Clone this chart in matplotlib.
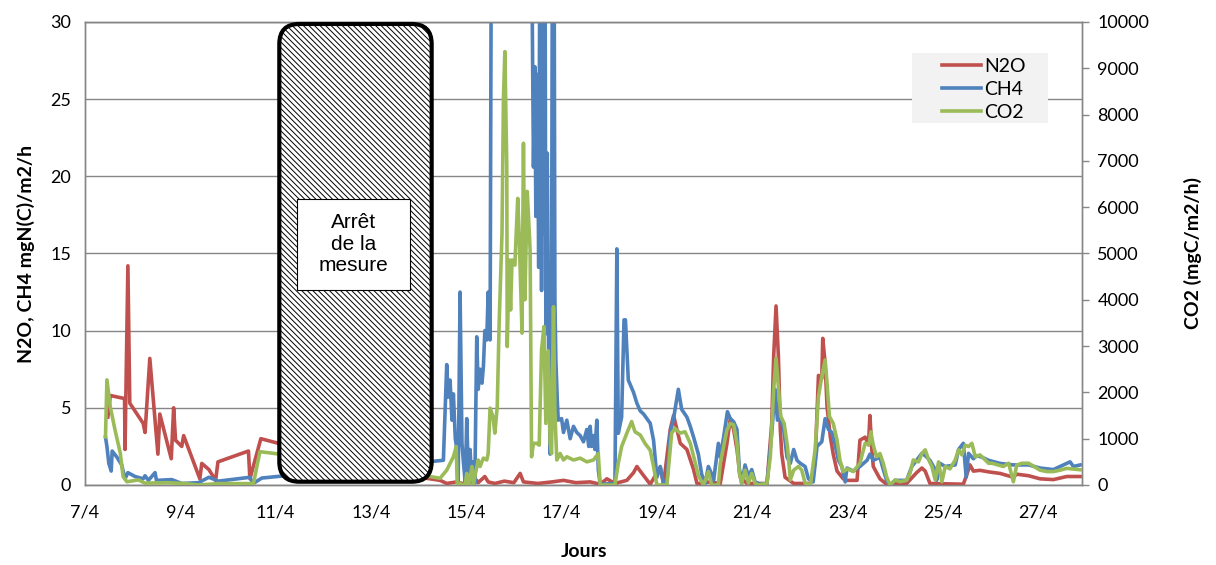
import matplotlib
matplotlib.use("Agg")
import matplotlib.pyplot as plt
from matplotlib.patches import FancyBboxPatch, Rectangle
from matplotlib.lines import Line2D

plt.rcParams['font.family'] = ['Lato', 'DejaVu Sans']
plt.rcParams['hatch.linewidth'] = 0.7

# jour d'avril (decimal) / valeur
n2o_t = [7.48, 7.53, 7.83, 7.84, 7.90, 7.94, 8.22, 8.26, 8.36, 8.53, 8.57, 8.81, 8.86, 8.90,
         9.03, 9.07, 9.41, 9.45, 9.60, 9.74, 9.79, 10.43, 10.46, 10.69, 11.06,
         14.03, 14.45, 14.59, 14.80, 14.97, 15.22, 15.25, 15.39, 15.46, 15.60, 15.80, 16.00,
         16.13, 16.20, 16.50, 16.80, 17.04, 17.30, 17.60, 17.81, 17.95, 18.12, 18.37, 18.51,
         18.58, 18.65, 18.86, 19.07, 19.14, 19.28, 19.35, 19.49, 19.63, 19.77, 19.84, 19.91,
         20.12, 20.33, 20.40, 20.47, 20.54, 20.61, 20.68, 20.75, 20.89, 21.31, 21.41, 21.45,
         21.50, 21.55, 21.59, 21.62, 21.69, 21.87, 22.22, 22.32, 22.39, 22.46, 22.48, 22.53,
         22.57, 22.64, 22.70, 22.78, 22.91, 22.98, 23.20, 23.26, 23.37, 23.44, 23.47, 23.51,
         23.54, 23.68, 23.82, 24.24, 24.45, 24.56, 24.63, 24.73, 25.43, 25.50, 25.57, 25.64,
         25.78, 25.96, 26.20, 26.48, 26.55, 26.80, 27.04, 27.32, 27.60, 27.88]
n2o_v = [4.4, 5.8, 5.6, 2.3, 14.2, 5.3, 4.0, 3.4, 8.2, 2.0, 4.6, 1.7, 5.0, 2.9,
         2.5, 3.2, 0.4, 1.4, 1.0, 0.3, 1.5, 2.2, 0.4, 3.0, 2.7,
         0.5, 0.3, 0.1, 0.2, 0.05, 0.3, 0.15, 0.55, 0.2, 0.1, 0.25, 0.15,
         0.75, 0.2, 0.1, 0.2, 0.3, 0.15, 0.2, 0.05, 0.4, 0.1, 0.3, 0.8,
         1.2, 0.9, 0.05, 1.15, 0.05, 3.6, 4.5, 2.7, 2.3, 1.0, 0.1, 0.1,
         0.2, 0.1, 1.4, 2.7, 4.3, 3.6, 2.3, 0.5, 0.1, 0.1, 4.0, 8.3,
         11.6, 8.3, 3.6, 2.0, 0.5, 0.1, 0.1, 1.4, 7.1, 6.9, 9.5, 7.9,
         5.1, 3.1, 2.0, 0.9, 0.4, 0.3, 0.3, 2.9, 3.1, 2.6, 4.5, 2.3,
         1.2, 0.4, 0.05, 0.1, 0.8, 1.1, 0.9, 0.1, 0.05, 0.65, 1.3, 0.9,
         0.95, 0.85, 0.75, 0.5, 0.7, 0.6, 0.4, 0.35, 0.55, 0.55]

ch4_t = [7.43, 7.46, 7.50, 7.55, 7.57, 7.67, 7.77, 7.84, 7.90, 8.05, 8.22, 8.26, 8.33, 8.47,
         8.50, 8.82, 9.03, 9.38, 9.60, 9.80, 10.46, 10.53, 10.71, 11.20,
         14.17, 14.52, 14.59, 14.62, 14.66, 14.70, 14.73, 14.77, 14.79, 14.83, 14.87, 14.91,
         14.94, 14.98, 15.01, 15.05, 15.08, 15.11, 15.15, 15.18, 15.22, 15.25, 15.29, 15.33,
         15.36, 15.39, 15.43, 15.46, 15.50, 15.53, 16.36,
         16.41, 16.44, 16.46, 16.49, 16.52, 16.55, 16.58, 16.61, 16.63, 16.65, 16.67,
         16.70, 16.73, 16.76, 16.79, 16.81, 16.84, 16.86, 16.88, 16.91, 16.93, 17.00, 17.04,
         17.11, 17.18, 17.25, 17.32, 17.39, 17.46, 17.53, 17.57, 17.60, 17.63, 17.67, 17.70,
         17.74, 17.77, 17.81, 18.12, 18.16, 18.19, 18.26, 18.31, 18.34, 18.40, 18.51, 18.58,
         18.65, 18.72, 18.86, 18.93, 19.00, 19.07, 19.14, 19.21, 19.28, 19.35, 19.45, 19.52,
         19.63, 19.70, 19.77, 19.87, 19.94, 20.01, 20.08, 20.15, 20.19, 20.29, 20.33, 20.40,
         20.48, 20.54, 20.61, 20.68, 20.73, 20.78, 20.85, 20.92, 20.99, 21.06, 21.17, 21.31,
         21.41, 21.48, 21.53, 21.59, 21.66, 21.73, 21.80, 21.87, 21.94, 22.01, 22.11, 22.18,
         22.28, 22.36, 22.46, 22.53, 22.60, 22.67, 22.74, 22.81, 22.88, 22.95, 22.99, 23.12,
         23.26, 23.41, 23.47, 23.54, 23.68, 23.75, 23.82, 23.89, 24.00, 24.10, 24.24, 24.35,
         24.45, 24.56, 24.63, 24.73, 24.84, 24.87, 24.94, 25.05, 25.26, 25.33, 25.43, 25.49,
         25.54, 25.64, 25.71, 25.82, 25.96, 26.20, 26.48, 26.80, 27.04, 27.32, 27.67, 27.74,
         27.88]
ch4_v = [3.1, 2.5, 1.4, 0.9, 2.2, 1.8, 1.3, 0.4, 0.8, 0.55, 0.4, 0.6, 0.3, 0.8,
         0.3, 0.35, 0.1, 0.15, 0.5, 0.25, 0.5, 0.1, 0.45, 0.6,
         1.5, 1.6, 7.8, 5.7, 6.8, 4.2, 5.9, 3.0, 2.6, 0.1, 12.5, 2.7,
         1.5, 0.1, 4.3, 0.1, 2.3, 0.5, 1.5, 0.1, 9.6, 6.2, 7.5, 6.6,
         7.7, 10.0, 9.4, 12.5, 9.4, 40, 40,
         20.6, 27.1, 17.4, 26.6, 14.1, 40, 12.6, 40, 16.3, 40, 9.8,
         21.5, 7.7, 2.0, 12.0, 40, 40, 12.0, 8.1, 5.5, 4.2, 4.3, 3.4,
         4.2, 3.0, 3.8, 3.4, 3.2, 2.8, 3.6, 2.5, 3.8, 2.5, 3.2, 2.3,
         4.2, 1.0, 0.05, 0.1, 15.3, 3.35, 4.4, 10.7, 10.7, 6.8, 6.0, 5.3,
         4.8, 4.6, 4.0, 2.9, 0.5, 1.2, 0.1, 0.1, 3.35, 4.3, 6.2, 4.9,
         4.4, 3.8, 3.1, 2.0, 0.7, 0.05, 1.2, 0.7, 0.3, 2.7, 1.8, 3.1,
         4.75, 4.3, 4.1, 3.6, 1.0, 0.1, 1.3, 0.55, 1.0, 0.2, 0.05, 0.1,
         3.35, 6.2, 4.2, 4.3, 3.6, 1.8, 1.4, 2.3, 1.6, 1.4, 1.2, 0.4,
         0.2, 2.5, 2.8, 4.3, 3.6, 3.4, 2.6, 1.6, 1.2, 0.2, 1.1, 0.9,
         1.2, 1.6, 2.0, 1.6, 1.8, 1.0, 0.3, 0.0, 0.3, 0.3, 0.3, 1.2,
         1.6, 2.05, 1.9, 1.6, 1.0, 0.3, 1.4, 1.2, 1.3, 2.3, 2.7, 0.5,
         2.05, 1.7, 1.9, 1.8, 1.6, 1.4, 1.3, 1.3, 1.1, 1.0, 1.5, 1.2,
         1.3]

co2_t = [7.43, 7.46, 7.53, 7.63, 7.74, 7.80, 7.88, 8.12, 8.26, 8.75, 9.10, 9.38, 9.80, 10.50,
         10.53, 10.67, 11.06, 14.03, 14.45, 14.59, 14.73, 14.79, 14.81, 14.87, 14.91, 14.98,
         15.01, 15.05, 15.12, 15.15, 15.18, 15.25, 15.29, 15.36, 15.43, 15.46, 15.50, 15.56,
         15.60, 15.65, 15.69, 15.75, 15.78, 15.81, 15.85, 15.86, 15.90, 15.93, 15.96, 16.02,
         16.08, 16.11, 16.17, 16.20, 16.23, 16.28, 16.34, 16.37, 16.41, 16.48, 16.53, 16.58,
         16.63, 16.67, 16.72, 16.76, 16.79, 16.83, 16.86, 16.90, 16.97, 17.04, 17.11, 17.25,
         17.39, 17.53, 17.67, 17.77, 17.81, 18.12, 18.19, 18.26, 18.37, 18.47, 18.54, 18.65,
         18.75, 18.86, 18.93, 19.00, 19.21, 19.31, 19.38, 19.49, 19.59, 19.70, 19.80, 19.87,
         19.98, 20.08, 20.15, 20.29, 20.33, 20.40, 20.47, 20.54, 20.61, 20.68, 20.73, 20.78,
         20.85, 20.92, 20.99, 21.06, 21.13, 21.31, 21.38, 21.45, 21.50, 21.55, 21.60, 21.67,
         21.74, 21.80, 21.87, 21.97, 22.04, 22.11, 22.22, 22.32, 22.39, 22.46, 22.53, 22.57,
         22.62, 22.70, 22.78, 22.84, 22.91, 23.00, 23.12, 23.26, 23.37, 23.45, 23.49, 23.54,
         23.61, 23.68, 23.75, 23.82, 23.89, 24.00, 24.10, 24.24, 24.31, 24.38, 24.49, 24.56,
         24.63, 24.70, 24.77, 24.84, 24.91, 24.98, 25.05, 25.15, 25.26, 25.33, 25.40, 25.47,
         25.54, 25.61, 25.68, 25.78, 25.85, 25.96, 26.03, 26.17, 26.27, 26.38, 26.48, 26.55,
         26.66, 26.80, 27.04, 27.18, 27.32, 27.46, 27.60, 27.88]
co2_v = [1040, 2270, 1690, 1190, 690, 180, 70, 110, 40, 50, 30, 0, 30, 30,
         10, 720, 670, 220, 145, 320, 610, 830, 0, 40, 0, 20,
         250, 0, 400, 0, 180, 540, 400, 580, 540, 680, 1660, 1480,
         1120, 1690, 3490, 5440, 8320, 9360, 6880, 2990, 4860, 3780, 4860, 4750,
         6190, 5420, 3280, 7380, 4000, 6340, 5080, 610, 900, 900, 860, 2920,
         3420, 1330, 2900, 900, 680, 3850, 1550, 540, 680, 540, 610, 540,
         580, 500, 540, 680, 0, 0, 470, 830, 1120, 1370, 1150, 1080,
         900, 750, 400, 0, 0, 1120, 1220, 1120, 1150, 900, 500, 200,
         0, 290, 0, 0, 470, 830, 1190, 1330, 1300, 900, 250, 40,
         320, 40, 250, 40, 0, 40, 610, 2050, 2740, 2120, 1480, 1330,
         830, 110, 320, 400, 320, 40, 0, 760, 1910, 2340, 2700, 2200,
         1480, 1330, 970, 540, 290, 350, 290, 470, 900, 870, 1150, 860,
         610, 680, 470, 180, 0, 110, 70, 100, 250, 540, 500, 680,
         760, 550, 400, 110, 500, 70, 400, 350, 540, 760, 650, 860,
         830, 900, 610, 650, 580, 470, 470, 430, 400, 470, 70, 430,
         470, 470, 320, 290, 290, 320, 360, 330]

day_ticks = [7, 9, 11, 13, 15, 17, 19, 21, 23, 25, 27]
day_labels = [f"{d}/4" for d in day_ticks]

RED, BLUE, GREEN = '#C0504D', '#4F81BD', '#9BBB59'
GRID = '#868686'
LW = 2.6

fig = plt.figure(figsize=(12.16, 5.65), dpi=100)
ax = fig.add_axes([0.0699, 0.1416, 0.8199, 0.8195])
ax2 = ax.twinx()

ax.plot(n2o_t, n2o_v, color=RED, lw=LW, zorder=3)
ax.plot(ch4_t, ch4_v, color=BLUE, lw=LW, zorder=3)
ax2.plot(co2_t, co2_v, color=GREEN, lw=LW, zorder=3)

ax.set_xlim(7, 27.92)
ax.set_ylim(0, 30)
ax2.set_ylim(0, 10000)
ax.set_yticks(range(0, 31, 5))
ax2.set_yticks(range(0, 10001, 1000))
ax.set_xticks(day_ticks)
ax.set_xticklabels(day_labels)

ax.grid(axis='y', color=GRID, lw=1.0)
ax.set_axisbelow(True)
for a in (ax, ax2):
    for s in a.spines.values():
        s.set_color(GRID)
        s.set_linewidth(1.0)
ax.tick_params(axis='y', length=0, pad=10, labelsize=13)
ax.tick_params(axis='x', length=0, pad=14, labelsize=13)
ax2.tick_params(axis='y', length=5, width=1, color=GRID, direction='out', pad=6, labelsize=13)

ax.set_ylabel('N2O, CH4 mgN(C)/m2/h', fontsize=14, fontweight='bold', labelpad=11)
ax2.set_ylabel('CO2 (mgC/m2/h)', fontsize=14, fontweight='bold', labelpad=25)
ax.set_xlabel('Jours', fontsize=14, fontweight='bold', labelpad=16)

# zone d'arret de la mesure
box = FancyBboxPatch((0.1949, 0.0071), 0.1528, 0.9886, transform=ax2.transAxes,
                     boxstyle='round,pad=0,rounding_size=0.02', mutation_aspect=997 / 463,
                     facecolor='white', edgecolor='black', hatch='\\\\\\\\\\\\',
                     lw=3, zorder=10, clip_on=False)
ax2.add_patch(box)
ax2.add_patch(Rectangle((0.213, 0.421), 0.113, 0.197, transform=ax2.transAxes,
                        facecolor='white', edgecolor='black', lw=0.8, zorder=11))
ax2.text(0.2695, 0.52, 'Arrêt\nde la\nmesure', transform=ax2.transAxes, ha='center',
         va='center', fontsize=15, family='Liberation Sans', linespacing=1.15, zorder=12)

# legende
ax2.add_patch(Rectangle((0.8295, 0.782), 0.1365, 0.151, transform=ax2.transAxes,
                        facecolor='#f2f2f2', edgecolor='none', zorder=18))
handles = [Line2D([], [], color=c, lw=LW) for c in (RED, BLUE, GREEN)]
leg = ax2.legend(handles, ['N2O', 'CH4', 'CO2'], loc='upper left',
                 bbox_to_anchor=(0.8596, 0.922), borderaxespad=0, borderpad=0,
                 fontsize=14, frameon=False, handlelength=2.0, handletextpad=0.15,
                 labelspacing=0.3)
leg.set_zorder(20)

fig.savefig('out.png', dpi=100)
